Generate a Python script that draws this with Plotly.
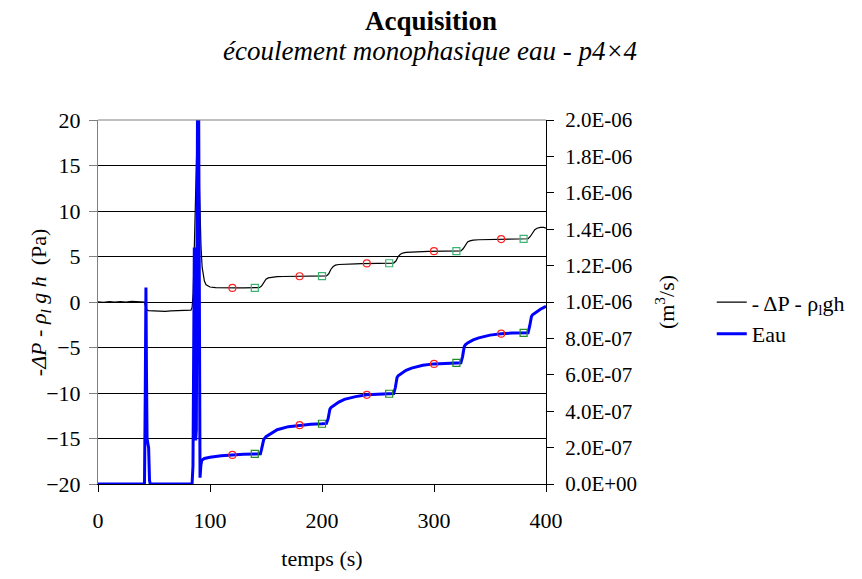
import plotly.graph_objects as go

# ---------------- data ----------------
t_dp = [0, 5, 10, 15, 20, 25, 30, 35, 40,
        41.5, 42.5, 43.5, 45,
        50, 55, 60, 65, 70, 75, 80,
        83, 84, 85, 86, 87, 88, 89,
        89.8, 90.5, 91.2, 92, 93, 94, 95, 96.5, 98, 100,
        105, 110, 115, 120, 125, 130, 135, 140,
        144, 146, 148, 150, 152, 155,
        160, 165, 170, 175, 180, 185, 190, 195, 200,
        204, 206, 208, 210, 212, 215,
        220, 225, 230, 235, 240, 245, 250, 255, 260,
        264, 266, 268, 270, 272, 275,
        280, 285, 290, 295, 300, 305, 310, 315, 320,
        324, 326, 328, 330, 332, 335,
        340, 345, 350, 355, 360, 365, 370, 375, 380,
        384, 386, 388, 390, 392, 395, 398, 400]
dp = [0.02, -0.03, 0.05, 0.0, 0.04, -0.02, 0.06, 0.03, 0.05,
      0.0, -0.5, -0.85, -0.95,
      -1.0, -0.97, -1.02, -0.98, -0.95, -0.93, -0.92,
      -0.9, -0.6, 1.0, 6.0, 12.0, 18.0, 21.0,
      16.0, 12.4, 8.5, 6.0, 3.8, 2.8, 2.3, 1.9, 1.75, 1.65,
      1.57, 1.55, 1.54, 1.55, 1.56, 1.55, 1.54, 1.56,
      1.58, 1.75, 2.2, 2.5, 2.65, 2.73,
      2.78, 2.8, 2.81, 2.82, 2.83, 2.84, 2.83, 2.85, 2.85,
      2.87, 3.1, 3.6, 3.9, 4.05, 4.12,
      4.17, 4.19, 4.2, 4.22, 4.24, 4.24, 4.25, 4.25, 4.26,
      4.28, 4.5, 5.0, 5.25, 5.38, 5.45,
      5.5, 5.52, 5.54, 5.56, 5.58, 5.58, 5.59, 5.6, 5.6,
      5.62, 5.85, 6.3, 6.6, 6.72, 6.8,
      6.84, 6.86, 6.88, 6.9, 6.91, 6.92, 6.92, 6.93, 6.93,
      6.95, 7.2, 7.65, 7.95, 8.1, 8.2, 8.2, 8.12]

t_q = [0, 10, 20, 30, 40,
       41.5, 42.2, 42.8, 43.3, 43.8, 44.6, 45.2, 46, 46.6,
       50, 60, 70, 80,
       84, 84.8, 85.5, 86, 86.6, 87.2, 87.8, 88.4, 89, 89.8, 90.4, 91.1, 91.8, 92.6,
       95, 100, 110, 120, 130, 140,
       145, 146, 147, 148, 150, 155, 160, 170, 180, 190, 200,
       204, 205.5, 207, 208, 210, 215, 220, 230, 240, 250, 260,
       264, 265.5, 267, 268, 270, 275, 280, 290, 300, 310, 320,
       324, 325.5, 327, 328, 330, 335, 340, 350, 360, 370, 380,
       384, 385.5, 387, 388, 390, 395, 400]
q = [0, 0, 0, 0, 0,
     0, 0.5e-6, 1.08e-6, 0.6e-6, 0.25e-6, 0.22e-6, 0.2e-6, 0.02e-6, 0,
     0, 0, 0, 0,
     0, 0.1e-6, 0.9e-6, 1.30e-6, 0.7e-6, 0.24e-6, 0.3e-6, 1.5e-6, 2.3e-6, 2.2e-6, 1.0e-6, 0.035e-6, 0.1e-6, 0.13e-6,
     0.14e-6, 0.147e-6, 0.155e-6, 0.16e-6, 0.163e-6, 0.165e-6,
     0.166e-6, 0.19e-6, 0.23e-6, 0.245e-6, 0.26e-6, 0.28e-6, 0.298e-6, 0.315e-6, 0.323e-6, 0.328e-6, 0.331e-6,
     0.333e-6, 0.36e-6, 0.41e-6, 0.42e-6, 0.43e-6, 0.45e-6, 0.465e-6, 0.48e-6, 0.49e-6, 0.494e-6, 0.496e-6,
     0.497e-6, 0.53e-6, 0.585e-6, 0.595e-6, 0.605e-6, 0.625e-6, 0.637e-6, 0.652e-6, 0.66e-6, 0.663e-6, 0.665e-6,
     0.666e-6, 0.70e-6, 0.755e-6, 0.765e-6, 0.775e-6, 0.792e-6, 0.803e-6, 0.818e-6, 0.826e-6, 0.829e-6, 0.83e-6,
     0.831e-6, 0.87e-6, 0.92e-6, 0.93e-6, 0.94e-6, 0.96e-6, 0.977e-6]

# averaging-window markers
t_start = [120, 180, 240, 300, 360]
t_end = [140, 200, 260, 320, 380]
dp_start = [1.55, 2.83, 4.24, 5.58, 6.91]
dp_end = [1.56, 2.85, 4.26, 5.60, 6.93]
q_start = [0.160e-6, 0.323e-6, 0.490e-6, 0.660e-6, 0.826e-6]
q_end = [0.165e-6, 0.331e-6, 0.496e-6, 0.665e-6, 0.830e-6]

x_ticks = [0, 100, 200, 300, 400]
left_ticks = [-20, -15, -10, -5, 0, 5, 10, 15, 20]
right_ticks = [0, 2e-7, 4e-7, 6e-7, 8e-7, 1e-6, 1.2e-6, 1.4e-6, 1.6e-6, 1.8e-6, 2e-6]
right_labels = ["0.0E+00", "2.0E-07", "4.0E-07", "6.0E-07", "8.0E-07", "1.0E-06",
                "1.2E-06", "1.4E-06", "1.6E-06", "1.8E-06", "2.0E-06"]

FONT = "Liberation Serif, Times New Roman, serif"

fig = go.Figure()
fig.add_trace(go.Scatter(x=t_dp, y=dp, mode="lines", name="- ΔP - ρ<sub>l</sub>gh",
                         line=dict(color="black", width=1.2), yaxis="y"))
fig.add_trace(go.Scatter(x=t_q, y=q, mode="lines", name="Eau",
                         line=dict(color="#0000FF", width=3), yaxis="y2"))
fig.add_trace(go.Scatter(x=t_start, y=dp_start, mode="markers", showlegend=False,
                         marker=dict(symbol="circle-open", color="#FF2020", size=7, line=dict(width=1.2)), yaxis="y"))
fig.add_trace(go.Scatter(x=t_end, y=dp_end, mode="markers", showlegend=False,
                         marker=dict(symbol="square-open", color="#3CB371", size=7, line=dict(width=1.2)), yaxis="y"))
fig.add_trace(go.Scatter(x=t_start, y=q_start, mode="markers", showlegend=False,
                         marker=dict(symbol="circle-open", color="#FF2020", size=7, line=dict(width=1.2)), yaxis="y2"))
fig.add_trace(go.Scatter(x=t_end, y=q_end, mode="markers", showlegend=False,
                         marker=dict(symbol="square-open", color="#228B22", size=7, line=dict(width=1.2)), yaxis="y2"))

fig.update_layout(
    width=862, height=579, autosize=False,
    margin=dict(l=98, r=315, t=120, b=91, pad=0),
    paper_bgcolor="white", plot_bgcolor="white",
    font=dict(family=FONT, size=22, color="black"),
    title=dict(text="<b>Acquisition</b>", x=0.5, xref="container", xanchor="center",
               y=1 - 21 / 579, yref="container", yanchor="middle",
               font=dict(family=FONT, size=27, color="black")),
    showlegend=True,
    legend=dict(x=1.37, xanchor="left", y=0.455, yanchor="middle",
                font=dict(family=FONT, size=22, color="black"),
                bgcolor="rgba(0,0,0,0)", itemwidth=30, tracegroupgap=0),
    xaxis=dict(range=[0, 400], tickvals=x_ticks, ticks="outside", ticklen=7, tickcolor="black",
               showline=True, linecolor="black", linewidth=1, showgrid=False, zeroline=False,
               tickfont=dict(size=22), ticklabelstandoff=10,
               title=dict(text="temps (s)", standoff=18, font=dict(size=22))),
    yaxis=dict(range=[-20, 20], tickvals=left_ticks, ticks="outside", ticklen=8, tickcolor="#808080",
               showline=True, linecolor="#808080", linewidth=1,
               showgrid=True, gridcolor="black", gridwidth=1, zeroline=False,
               tickfont=dict(size=22), ticklabelstandoff=4),
    yaxis2=dict(range=[0, 2e-6], overlaying="y", side="right", anchor="x",
                tickvals=right_ticks, ticktext=right_labels, ticks="outside", ticklen=7, tickcolor="black",
                showline=True, linecolor="black", linewidth=1, showgrid=False, zeroline=False,
                tickfont=dict(size=21), ticklabelstandoff=7,
                title=dict(text="(m<sup>3</sup>/s)", standoff=22, font=dict(size=22))),
    yaxis3=dict(range=[0, 2e-6], overlaying="y", side="right", anchor="x",
                tickvals=right_ticks, ticks="inside", ticklen=7, tickcolor="black",
                showticklabels=False, showline=False, showgrid=False, zeroline=False),
    annotations=[
        dict(text="<i>écoulement monophasique eau - p4×4</i>", xref="paper", yref="paper",
             x=(431 - 98) / 449, y=(488 - 50) / 368, xanchor="center", yanchor="middle",
             showarrow=False, font=dict(family=FONT, size=27, color="black")),
        dict(text="-<i>ΔP</i> - <i>ρ<sub>l</sub> g h</i>  (Pa)", xref="paper", yref="paper",
             x=(40 - 98) / 449, y=0.5, xanchor="center", yanchor="middle", textangle=-90,
             showarrow=False, font=dict(family=FONT, size=22, color="black")),
    ],
    shapes=[dict(type="line", xref="paper", yref="paper", x0=0, x1=1, y0=1, y1=1,
                 line=dict(color="#808080", width=1), layer="above")],
)

fig.write_html("out.html", include_plotlyjs=True, config={"displayModeBar": False},
               post_script="document.body.style.margin='0';")
